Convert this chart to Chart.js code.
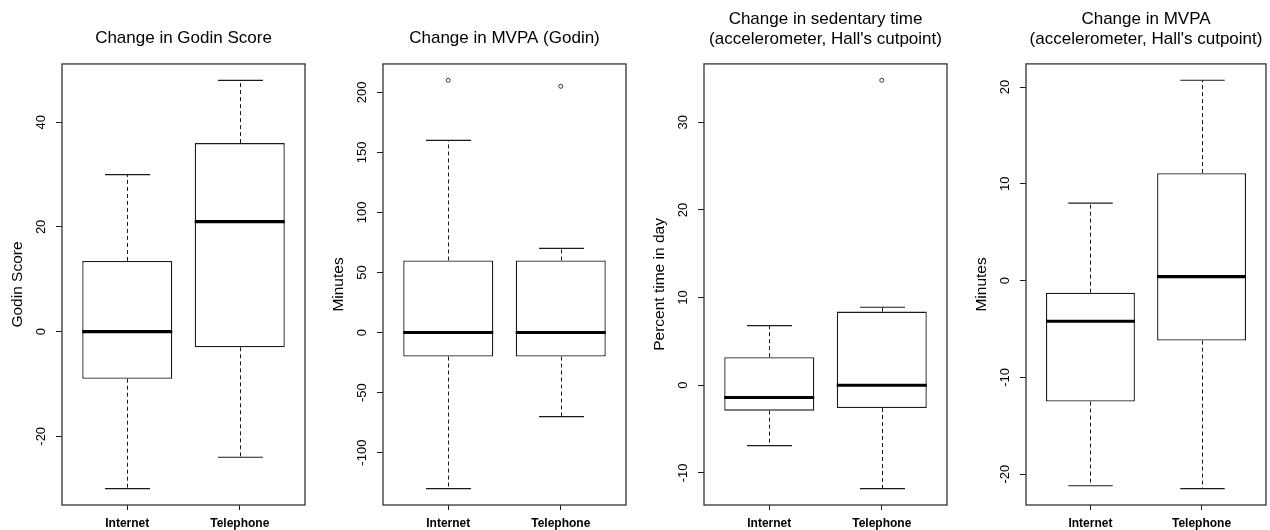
<!DOCTYPE html>
<html lang="en">
<head>
<meta charset="UTF-8">
<title>Change in physical activity by group</title>
<script src="https://cdn.jsdelivr.net/npm/chart.js"></script>
<style>
  body { margin: 0; background: #fff; }
  #wrap { position: relative; width: 1270px; height: 530px; overflow: hidden; }
  #wrap canvas { position: absolute; top: 0; }
</style>
</head>
<body>
<div id="wrap">
  <canvas id="godinChart"></canvas>
  <canvas id="mvpaGodinChart"></canvas>
  <canvas id="sedentaryChart"></canvas>
  <canvas id="mvpaAccChart"></canvas>
</div>

<script>
// Groups on the x axis
const groups = ['Internet', 'Telephone'];

// Five-number summaries: [lower whisker, Q1, median, Q3, upper whisker]
const godinInternet = [-30, -9, 0, 13.5, 30];
const godinTelephone = [-24, -3, 21, 36, 48];

const mvpaGodinInternet = [-130, -20, 0, 60, 160];
const mvpaGodinTelephone = [-70, -20, 0, 60, 70];

const sedentaryInternet = [-6.9, -2.9, -1.4, 3.2, 6.8];
const sedentaryTelephone = [-11.8, -2.6, 0, 8.4, 8.9];

const mvpaAccInternet = [-21.2, -12.5, -4.2, -1.25, 8];
const mvpaAccTelephone = [-21.5, -6.2, 0.4, 11.1, 20.7];

// Outliers (group, value)
const mvpaGodinOutlierGroups = ['Internet', 'Telephone'];
const mvpaGodinOutlierValues = [210, 205];
const sedentaryOutlierGroups = ['Telephone'];
const sedentaryOutlierValues = [34.8];

// Y tick labels
const godinTicks = [-20, 0, 20, 40];
const mvpaGodinTicks = [-100, -50, 0, 50, 100, 150, 200];
const sedentaryTicks = [-10, 0, 10, 20, 30];
const mvpaAccTicks = [-20, -10, 0, 10, 20];

const FONT = "'Liberation Sans', Arial, Helvetica, sans-serif";
const INK = '#1a1a1a';
const TICK_SIZE = 13;

// R style axis range: data range plus 4% each side
function padRange(lo, hi) {
    const pad = (hi - lo) * 0.04;
    return [lo - pad, hi + pad];
}

function line(ctx, x1, y1, x2, y2) {
    ctx.beginPath();
    ctx.moveTo(x1, y1);
    ctx.lineTo(x2, y2);
    ctx.stroke();
}

// Whiskers, staples, medians and the plot frame
const boxPlotPlugin = {
    id: 'boxPlot',
    afterDatasetsDraw(chart, args, opts) {
        const ctx = chart.ctx;
        const y = chart.scales.y;
        const bars = chart.getDatasetMeta(0).data;
        ctx.save();
        ctx.strokeStyle = INK;
        opts.summaries.forEach((s, i) => {
            const bar = bars[i];
            const x = Math.round(bar.x) + 0.5;
            const half = bar.width / 2;
            const [lo, q1, med, q3, hi] = s.map(v => y.getPixelForValue(v));

            ctx.lineWidth = 1;
            ctx.setLineDash([4, 3]);
            line(ctx, x, q3, x, hi);
            line(ctx, x, q1, x, lo);
            ctx.setLineDash([]);

            ctx.lineWidth = 1.2;
            line(ctx, x - half / 2, hi, x + half / 2, hi);
            line(ctx, x - half / 2, lo, x + half / 2, lo);

            ctx.strokeStyle = '#000';
            ctx.lineWidth = 3.2;
            line(ctx, bar.x - half, med, bar.x + half, med);
            ctx.strokeStyle = INK;
        });
        const a = chart.chartArea;
        ctx.lineWidth = 1.3;
        ctx.strokeStyle = '#333';
        ctx.strokeRect(a.left, a.top, a.right - a.left, a.bottom - a.top);
        ctx.restore();
    }
};

function tickPadding(ticks) {
    const c = document.createElement('canvas').getContext('2d');
    c.font = TICK_SIZE + 'px ' + FONT;
    const widest = Math.max(...ticks.map(v => c.measureText(String(v)).width));
    return 20.5 - 6 - widest / 2;
}

function makePanel(id, left, width, padRight, title, yTitle, summaries, outGroups, outValues, ticks) {
    const canvas = document.getElementById(id);
    canvas.width = width;
    canvas.height = 530;
    canvas.style.left = left + 'px';

    const all = summaries.flat().concat(outValues);
    const [yMin, yMax] = padRange(Math.min(...all), Math.max(...all));
    const [xMin, xMax] = padRange(0.5, groups.length + 0.5);
    const twoLines = Array.isArray(title);

    return new Chart(canvas, {
        data: {
            datasets: [{
                type: 'bar',
                data: summaries.map((s, i) => ({ x: i + 1, y: [s[1], s[3]] })),
                backgroundColor: '#fff',
                borderColor: INK,
                borderWidth: 1.3,
                borderSkipped: false,
                categoryPercentage: 0.8,
                barPercentage: 1.0
            }, {
                type: 'scatter',
                data: outGroups.map((g, i) => ({ x: groups.indexOf(g) + 1, y: outValues[i] })),
                pointRadius: 2,
                pointBorderWidth: 1,
                pointBorderColor: '#333',
                pointBackgroundColor: 'rgba(0,0,0,0)'
            }]
        },
        options: {
            responsive: false,
            animation: false,
            devicePixelRatio: 1,
            events: [],
            layout: { padding: { left: 0, right: padRight, top: 0, bottom: 0 } },
            plugins: {
                legend: { display: false },
                tooltip: { enabled: false },
                title: {
                    display: true,
                    text: title,
                    fullSize: false,
                    color: '#000',
                    font: { family: FONT, size: 17, weight: 'normal', lineHeight: 1.15 },
                    padding: twoLines ? { top: 9.5, bottom: 15.3 } : { top: 28.4, bottom: 16 }
                },
                boxPlot: { summaries }
            },
            scales: {
                x: {
                    type: 'linear',
                    min: xMin,
                    max: xMax,
                    bounds: 'data',
                    offset: false,
                    border: { display: false },
                    grid: { offset: false, drawOnChartArea: false, drawTicks: true, tickLength: 5, color: INK },
                    ticks: {
                        color: '#000',
                        font: { family: FONT, size: 12, weight: 'bold' },
                        padding: 6,
                        autoSkip: false,
                        maxRotation: 0,
                        callback: v => groups[v - 1]
                    },
                    afterBuildTicks: s => { s.ticks = groups.map((g, i) => ({ value: i + 1 })); },
                    afterFit: s => { s.height = 25; }
                },
                y: {
                    type: 'linear',
                    min: yMin,
                    max: yMax,
                    bounds: 'data',
                    border: { display: false },
                    grid: { drawOnChartArea: false, drawTicks: true, tickLength: 6, color: INK },
                    ticks: {
                        color: '#000',
                        font: { family: FONT, size: TICK_SIZE },
                        minRotation: 90,
                        maxRotation: 90,
                        crossAlign: 'center',
                        autoSkip: false,
                        padding: tickPadding(ticks),
                        callback: v => String(v)
                    },
                    afterBuildTicks: s => { s.ticks = ticks.map(v => ({ value: v })); },
                    afterFit: s => { s.width = 62; },
                    title: {
                        display: true,
                        text: yTitle,
                        color: '#000',
                        font: { family: FONT, size: 15.5 },
                        padding: { top: 8.7, bottom: 0 }
                    }
                }
            }
        },
        plugins: [boxPlotPlugin]
    });
}

makePanel('godinChart', 0, 310, 5, 'Change in Godin Score', 'Godin Score',
    [godinInternet, godinTelephone], [], [], godinTicks);

makePanel('mvpaGodinChart', 321, 310, 4, 'Change in MVPA (Godin)', 'Minutes',
    [mvpaGodinInternet, mvpaGodinTelephone], mvpaGodinOutlierGroups, mvpaGodinOutlierValues, mvpaGodinTicks);

makePanel('sedentaryChart', 642, 310, 4,
    ['Change in sedentary time', "(accelerometer, Hall's cutpoint)"], 'Percent time in day',
    [sedentaryInternet, sedentaryTelephone], sedentaryOutlierGroups, sedentaryOutlierValues, sedentaryTicks);

makePanel('mvpaAccChart', 964, 306, 4,
    ['Change in MVPA', "(accelerometer, Hall's cutpoint)"], 'Minutes',
    [mvpaAccInternet, mvpaAccTelephone], [], [], mvpaAccTicks);
</script>
</body>
</html>
